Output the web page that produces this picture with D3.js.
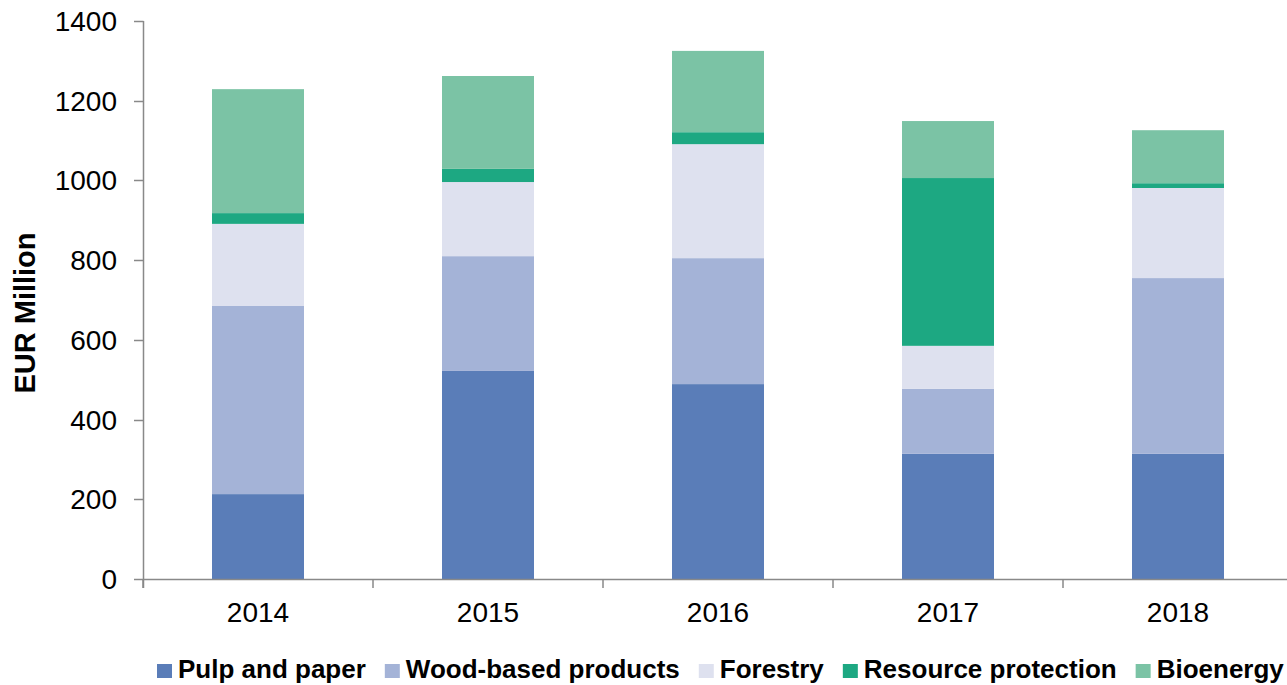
<!DOCTYPE html>
<html>
<head>
<meta charset="utf-8">
<script src="https://cdn.jsdelivr.net/npm/d3@7"></script>
<style>
  html, body { margin: 0; padding: 0; background: #fff; }
  svg { display: block; font-family: "Liberation Sans", Arial, sans-serif; }
</style>
</head>
<body>
<svg id="chart" width="1287" height="685"></svg>
<script>
const years = ["2014", "2015", "2016", "2017", "2018"];
const seriesNames = ["Pulp and paper", "Wood-based products", "Forestry", "Resource protection", "Bioenergy"];
const seriesColors = ["#5A7DB8", "#A4B3D7", "#DEE1EF", "#1DA882", "#7BC3A5"];
const pulpAndPaper = [213, 522, 489, 314, 314];
const woodBased = [472, 288, 316, 163, 441];
const forestry = [206, 186, 286, 108, 226];
const resourceProtection = [27, 33, 30, 421, 12];
const bioenergy = [311, 233, 204, 143, 133];
const yTicks = [0, 200, 400, 600, 800, 1000, 1200, 1400];
const yLabel = "EUR Million";

const seriesValues = [pulpAndPaper, woodBased, forestry, resourceProtection, bioenergy];
const rows = years.map((y, i) => {
  const r = { year: y };
  seriesNames.forEach((s, k) => { r[s] = seriesValues[k][i]; });
  return r;
});

const svg = d3.select("#chart");
const axisColor = "#898989";

const x = d3.scaleBand().domain(years).range([143, 1293]).paddingInner(0.6).paddingOuter(0.3);
const y = d3.scaleLinear().domain([0, 1400]).range([579, 21]);

const stacked = d3.stack().keys(seriesNames)(rows);

svg.append("g").selectAll("g.series").data(stacked).join("g")
  .attr("class", "series")
  .attr("fill", (d, i) => seriesColors[i])
  .selectAll("rect").data(d => d).join("rect")
  .attr("x", d => x(d.data.year))
  .attr("width", x.bandwidth())
  .attr("y", d => y(d[1]))
  .attr("height", d => y(d[0]) - y(d[1]));

// Y axis
const yAxis = svg.append("g");
yAxis.append("line").attr("x1", 143.5).attr("x2", 143.5).attr("y1", y(1400)).attr("y2", y(0) + 9)
  .attr("stroke", axisColor).attr("stroke-width", 1.5);
yAxis.selectAll("line.tick").data(yTicks).join("line").attr("class", "tick")
  .attr("x1", 134).attr("x2", 143.5)
  .attr("y1", d => Math.round(y(d)) + 0.5).attr("y2", d => Math.round(y(d)) + 0.5)
  .attr("stroke", axisColor).attr("stroke-width", 1.5);
yAxis.selectAll("text").data(yTicks).join("text")
  .attr("x", 117).attr("y", d => y(d) + 10)
  .attr("text-anchor", "end")
  .attr("font-size", 28).attr("fill", "#000")
  .text(d => d);

// X axis
const xAxis = svg.append("g");
xAxis.append("line").attr("x1", 143).attr("x2", 1287).attr("y1", 579.5).attr("y2", 579.5)
  .attr("stroke", axisColor).attr("stroke-width", 1.5);
const step = x.step();
const boundaries = years.map(d => x(d) - step * 0.3).concat([x(years[years.length - 1]) + x.bandwidth() + step * 0.3]);
xAxis.selectAll("line.tick").data(boundaries).join("line").attr("class", "tick")
  .attr("x1", d => d).attr("x2", d => d).attr("y1", 579).attr("y2", 588)
  .attr("stroke", axisColor).attr("stroke-width", 1.5);
xAxis.selectAll("text").data(years).join("text")
  .attr("x", d => x(d) + x.bandwidth() / 2).attr("y", 622)
  .attr("text-anchor", "middle")
  .attr("font-size", 28).attr("fill", "#000")
  .text(d => d);

// Y label
svg.append("text")
  .attr("transform", "translate(35,313) rotate(-90)")
  .attr("text-anchor", "middle")
  .attr("font-size", 29).attr("font-weight", "bold").attr("fill", "#000")
  .text(yLabel);

// Legend
const legend = svg.append("g");
let lx = 157;
seriesNames.forEach((name, i) => {
  legend.append("rect").attr("x", lx).attr("y", 664).attr("width", 15).attr("height", 14).attr("fill", seriesColors[i]);
  const t = legend.append("text").attr("x", lx + 21).attr("y", 678)
    .attr("font-size", 26).attr("font-weight", "bold").attr("fill", "#000").text(name);
  const w = t.node().getComputedTextLength();
  lx = lx + 21 + w + 19;
});
</script>
</body>
</html>
